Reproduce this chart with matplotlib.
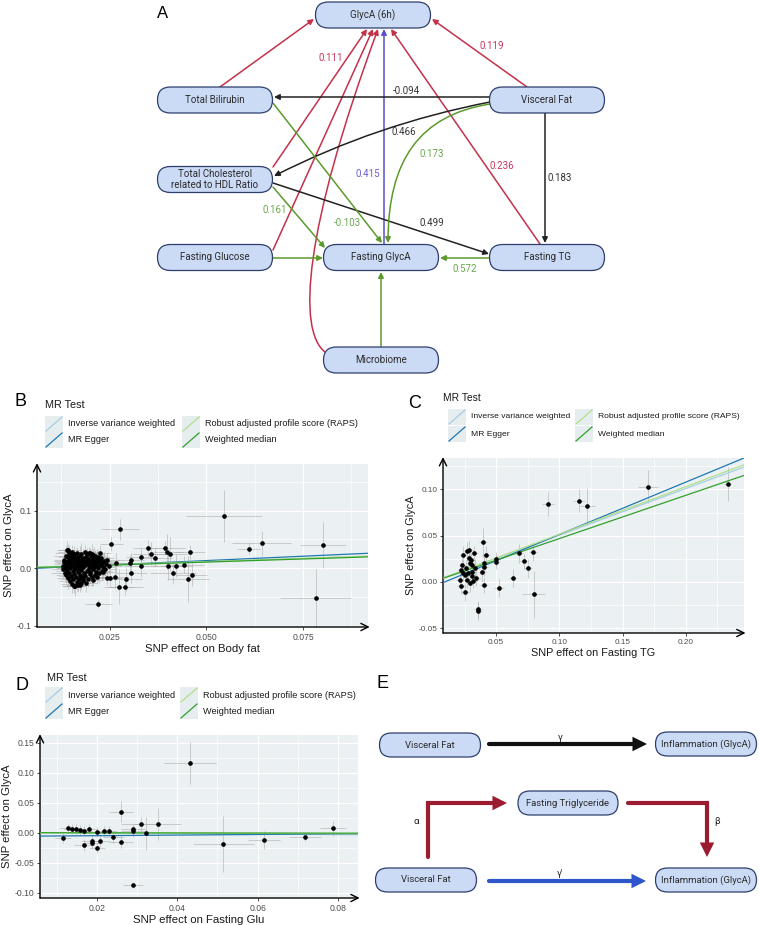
import matplotlib
matplotlib.use('Agg')
import matplotlib.pyplot as plt
from matplotlib.patches import FancyBboxPatch, FancyArrowPatch, Rectangle
from matplotlib.path import Path

plt.rcParams['font.family'] = ['Liberation Sans', 'DejaVu Sans']
plt.rcParams['axes.unicode_minus'] = False

# ---------------- data ----------------
# Panel A path coefficients
coef_bili_6h = "0.111"; coef_vf_6h = "0.119"; coef_vf_bili = "-0.094"
coef_vf_tc = "0.466"; coef_fg_6h = "0.415"; coef_vf_fg = "0.173"
coef_tg_6h = "0.236"; coef_vf_tg = "0.183"; coef_tc_fg = "0.161"
coef_bili_fg = "-0.103"; coef_tc_tg = "0.499"; coef_tg_fg = "0.572"

# Panel B: SNP effects (body fat -> GlycA)
b_x_outer = [0.0546, 0.0277, 0.0254, 0.0609, 0.0643, 0.0802, 0.0783, 0.0221, 0.0350, 0.0358,
             0.0367, 0.0394, 0.0399, 0.0406, 0.0400, 0.0422, 0.0414, 0.0443, 0.0457, 0.0452,
             0.0462, 0.0331, 0.0331, 0.0304, 0.0302, 0.0306, 0.0293, 0.0290, 0.0274, 0.0266,
             0.0263, 0.0252, 0.0243, 0.0233, 0.0229, 0.0224, 0.0220, 0.0207, 0.0198, 0.0181,
             0.0177, 0.0167, 0.0157, 0.0143]
b_y_outer = [0.0907, 0.0676, 0.0416, 0.0341, 0.0433, 0.0404, -0.0520, -0.0618, 0.0347, 0.0248,
             0.0185, 0.0352, 0.0289, 0.0248, 0.0046, 0.0046, -0.0075, 0.0064, 0.0289, -0.0185,
             -0.0116, 0.0202, 0.0046, 0.0144, 0.0087, -0.0075, -0.0190, -0.0318, -0.0318, 0.0087,
             -0.0144, -0.0173, -0.0173, -0.0058, 0.0116, 0.0260, 0.0173, 0.0231, 0.0260, -0.0202,
             -0.0260, -0.0289, -0.0306, 0.0318]
b_xe_outer = [0.0099, 0.0050, 0.0030, 0.0030, 0.0077, 0.0060, 0.0092, 0.0035, 0.0040, 0.0050,
              0.0045, 0.0050, 0.0040, 0.0045, 0.0040, 0.0040, 0.0060, 0.0050, 0.0040, 0.0055,
              0.0040, 0.0040, 0.0045, 0.0035, 0.0035, 0.0040, 0.0040, 0.0045, 0.0040, 0.0035,
              0.0035, 0.0030, 0.0030, 0.0030, 0.0030, 0.0030, 0.0030, 0.0030, 0.0030, 0.0030,
              0.0030, 0.0030, 0.0030, 0.0030]
b_ye_outer = [0.045, 0.018, 0.012, 0.010, 0.022, 0.040, 0.050, 0.008, 0.015, 0.020,
              0.015, 0.012, 0.030, 0.030, 0.025, 0.020, 0.020, 0.015, 0.012, 0.040,
              0.020, 0.015, 0.020, 0.012, 0.015, 0.018, 0.020, 0.015, 0.030, 0.018,
              0.020, 0.015, 0.012, 0.012, 0.012, 0.012, 0.010, 0.010, 0.010, 0.012,
              0.012, 0.012, 0.012, 0.010]
b_x_core = [0.0128, 0.0130, 0.0131, 0.0133, 0.0134, 0.0135, 0.0136, 0.0137, 0.0138, 0.0139,
            0.0140, 0.0141, 0.0142, 0.0143, 0.0143, 0.0144, 0.0145, 0.0146, 0.0147, 0.0148,
            0.0148, 0.0149, 0.0150, 0.0151, 0.0152, 0.0152, 0.0153, 0.0154, 0.0155, 0.0156,
            0.0157, 0.0157, 0.0158, 0.0159, 0.0160, 0.0160, 0.0161, 0.0162, 0.0163, 0.0164,
            0.0165, 0.0165, 0.0166, 0.0167, 0.0168, 0.0169, 0.0170, 0.0171, 0.0172, 0.0172,
            0.0173, 0.0174, 0.0175, 0.0176, 0.0177, 0.0178, 0.0179, 0.0180, 0.0181, 0.0182,
            0.0183, 0.0184, 0.0185, 0.0186, 0.0187, 0.0188, 0.0189, 0.0190, 0.0191, 0.0192,
            0.0193, 0.0194, 0.0195, 0.0196, 0.0197, 0.0198, 0.0199, 0.0200, 0.0201, 0.0202,
            0.0203, 0.0204, 0.0205, 0.0206, 0.0207, 0.0208, 0.0209, 0.0210, 0.0211, 0.0212,
            0.0213, 0.0214, 0.0215, 0.0216, 0.0217, 0.0218, 0.0219, 0.0220, 0.0222, 0.0223,
            0.0225, 0.0227, 0.0229, 0.0231, 0.0233, 0.0236, 0.0238, 0.0241, 0.0244, 0.0247]
b_y_core = [0.004, -0.002, 0.010, 0.015, -0.008, 0.001, 0.022, -0.012, 0.007, 0.031,
            -0.004, 0.013, 0.019, -0.017, 0.003, 0.026, -0.009, 0.009, 0.015, -0.022,
            0.001, 0.021, -0.013, 0.006, 0.028, -0.027, 0.011, -0.005, 0.017, -0.018,
            0.003, 0.024, -0.010, 0.008, -0.030, 0.014, -0.002, 0.020, -0.015, 0.005,
            0.012, -0.024, 0.027, -0.007, 0.016, 0.001, -0.019, 0.009, 0.022, -0.011,
            0.004, -0.029, 0.014, -0.003, 0.025, -0.016, 0.007, 0.018, -0.021, 0.002,
            0.011, -0.008, 0.029, -0.013, 0.005, 0.020, -0.025, 0.013, -0.004, 0.024,
            0.008, -0.018, 0.016, 0.001, 0.027, -0.010, 0.010, -0.006, 0.021, 0.004,
            -0.015, 0.014, 0.025, -0.002, 0.009, -0.020, 0.018, 0.003, -0.011, 0.012,
            0.022, -0.006, 0.006, 0.016, -0.016, 0.010, 0.001, 0.020, -0.009, 0.013,
            0.005, 0.017, -0.004, 0.009, 0.002, 0.012, -0.002, 0.007, 0.014, 0.004]
b_xe_core = [0.0025, 0.0030, 0.0022, 0.0028, 0.0035, 0.0024, 0.0030, 0.0026, 0.0032, 0.0022,
             0.0028, 0.0034, 0.0025, 0.0030, 0.0023, 0.0036, 0.0027, 0.0031, 0.0024, 0.0029,
             0.0033, 0.0026, 0.0030, 0.0022, 0.0035, 0.0028, 0.0025, 0.0031, 0.0027, 0.0034,
             0.0023, 0.0029, 0.0032, 0.0026, 0.0030, 0.0024, 0.0036, 0.0028, 0.0025, 0.0033,
             0.0027, 0.0031, 0.0022, 0.0029, 0.0035, 0.0026, 0.0030, 0.0024, 0.0032, 0.0028,
             0.0025, 0.0034, 0.0027, 0.0030, 0.0023, 0.0031, 0.0029, 0.0026, 0.0033, 0.0024,
             0.0030, 0.0028, 0.0035, 0.0025, 0.0032, 0.0027, 0.0029, 0.0023, 0.0031, 0.0026,
             0.0034, 0.0028, 0.0025, 0.0030, 0.0024, 0.0033, 0.0027, 0.0031, 0.0029, 0.0026,
             0.0032, 0.0025, 0.0030, 0.0028, 0.0035, 0.0024, 0.0031, 0.0027, 0.0033, 0.0029,
             0.0026, 0.0030, 0.0025, 0.0032, 0.0028, 0.0034, 0.0027, 0.0031, 0.0024, 0.0030,
             0.0029, 0.0033, 0.0026, 0.0031, 0.0028, 0.0035, 0.0030, 0.0034, 0.0032, 0.0036]
b_ye_core = [0.012, 0.015, 0.010, 0.018, 0.013, 0.011, 0.016, 0.014, 0.012, 0.017,
             0.010, 0.015, 0.013, 0.019, 0.011, 0.014, 0.016, 0.012, 0.018, 0.013,
             0.015, 0.011, 0.017, 0.014, 0.012, 0.016, 0.010, 0.015, 0.013, 0.018,
             0.011, 0.014, 0.016, 0.012, 0.019, 0.013, 0.015, 0.011, 0.017, 0.014,
             0.012, 0.016, 0.010, 0.015, 0.013, 0.018, 0.011, 0.014, 0.016, 0.012,
             0.017, 0.013, 0.015, 0.011, 0.019, 0.014, 0.012, 0.016, 0.010, 0.015,
             0.013, 0.018, 0.011, 0.014, 0.016, 0.012, 0.017, 0.013, 0.015, 0.011,
             0.019, 0.014, 0.012, 0.016, 0.010, 0.015, 0.013, 0.018, 0.011, 0.014,
             0.016, 0.012, 0.017, 0.013, 0.015, 0.011, 0.019, 0.014, 0.012, 0.016,
             0.010, 0.015, 0.013, 0.018, 0.011, 0.014, 0.016, 0.012, 0.017, 0.013,
             0.015, 0.011, 0.019, 0.014, 0.012, 0.016, 0.013, 0.015, 0.012, 0.014]

# Panel C: SNP effects (fasting TG -> GlycA)
c_x = [0.233, 0.170, 0.091, 0.1156, 0.122, 0.0796, 0.079,
       0.0397, 0.042, 0.0407, 0.0407, 0.0392, 0.0402, 0.0356, 0.036, 0.0521, 0.0497,
       0.0497, 0.063, 0.068, 0.0717, 0.0754,
       0.0212, 0.022, 0.0252, 0.0225, 0.0233, 0.0241, 0.0273, 0.0286, 0.0326, 0.0288,
       0.0301, 0.0294, 0.031, 0.0257, 0.0278, 0.0307, 0.0339, 0.0294, 0.032, 0.0267,
       0.0333, 0.0262, 0.0236, 0.0307]
c_y = [0.106, 0.103, 0.084, 0.088, 0.082, -0.0137, 0.032,
       0.0427, 0.029, 0.0206, 0.0163, 0.0102, -0.0036, -0.0296, -0.0314, -0.0065, 0.0246,
       0.0214, 0.004, 0.0308, 0.0224, 0.0145,
       0.0015, -0.0047, -0.0108, 0.0127, 0.0181, 0.0286, 0.033, 0.0344, 0.0308, 0.0254,
       0.0236, 0.0206, 0.0181, 0.0073, 0.009, 0.0062, 0.0037, -0.001, 0.0011, 0.0018,
       0.0152, 0.0152, 0.009, 0.0108]
c_xe = [0.003, 0.008, 0.005, 0.005, 0.006, 0.009, 0.003,
        0.003, 0.003, 0.003, 0.003, 0.003, 0.003, 0.003, 0.003, 0.004, 0.003,
        0.003, 0.003, 0.003, 0.003, 0.003,
        0.003, 0.003, 0.003, 0.003, 0.003, 0.003, 0.003, 0.003, 0.003, 0.003,
        0.003, 0.003, 0.003, 0.003, 0.003, 0.003, 0.003, 0.003, 0.003, 0.003,
        0.003, 0.003, 0.003, 0.003]
c_ye = [0.018, 0.018, 0.013, 0.012, 0.020, 0.025, 0.010,
        0.016, 0.010, 0.010, 0.010, 0.010, 0.008, 0.008, 0.010, 0.010, 0.008,
        0.008, 0.010, 0.010, 0.008, 0.010,
        0.008, 0.008, 0.010, 0.008, 0.008, 0.010, 0.010, 0.010, 0.008, 0.010,
        0.008, 0.010, 0.008, 0.008, 0.010, 0.008, 0.008, 0.010, 0.008, 0.008,
        0.010, 0.008, 0.008, 0.010]

# Panel D: SNP effects (fasting glucose -> GlycA)
d_x = [0.0432, 0.0260, 0.0310, 0.0351, 0.0290, 0.0290, 0.0322, 0.0116, 0.0127, 0.0138,
       0.0148, 0.0158, 0.0168, 0.0179, 0.0168, 0.0188, 0.0188, 0.0199, 0.0199, 0.0208,
       0.0218, 0.0229, 0.0239, 0.0260, 0.0290, 0.0515, 0.0616, 0.0717, 0.0788]
d_y = [0.1167, 0.0350, 0.0145, 0.0145, 0.0055, 0.0022, -0.0010, -0.0093, 0.0073, 0.0057,
       0.0060, 0.0045, 0.0034, 0.0060, -0.0210, -0.0133, -0.0180, -0.0255, 0.0010, -0.0139,
       0.0029, 0.0024, -0.0067, -0.0150, -0.0872, -0.0194, -0.0122, -0.0067, 0.0072]
d_xe = [0.0064, 0.0030, 0.0050, 0.0058, 0.0030, 0.0030, 0.0040, 0.0020, 0.0020, 0.0020,
        0.0020, 0.0020, 0.0020, 0.0020, 0.0025, 0.0025, 0.0025, 0.0020, 0.0020, 0.0025,
        0.0020, 0.0020, 0.0025, 0.0030, 0.0025, 0.0075, 0.0040, 0.0040, 0.0033]
d_ye = [0.035, 0.018, 0.012, 0.026, 0.008, 0.010, 0.028, 0.008, 0.008, 0.008,
        0.008, 0.008, 0.008, 0.008, 0.010, 0.010, 0.008, 0.008, 0.008, 0.010,
        0.008, 0.008, 0.010, 0.010, 0.005, 0.047, 0.015, 0.008, 0.012]

# MR estimates (intercept, slope) per method
mr_methods = ["Inverse variance weighted", "MR Egger",
              "Robust adjusted profile score (RAPS)", "Weighted median"]
mr_colors = ["#a6cee3", "#1f78b4", "#b2df8a", "#33a02c"]
b_fit = [(0.0, 0.225), (-0.0019, 0.304), (0.0, 0.230), (0.0, 0.215)]
c_fit = [(0.0, 0.505), (-0.0055, 0.567), (0.0, 0.515), (0.0, 0.468)]
d_fit = [(0.0, -0.04), (-0.006, 0.05), (0.0, -0.02), (0.0, -0.01)]

# ---------------- figure ----------------
W, H = 759, 925
fig = plt.figure(figsize=(W / 100, H / 100), dpi=100)
bg = fig.add_axes([0, 0, 1, 1])
bg.set_xlim(0, W); bg.set_ylim(H, 0); bg.axis('off')

BOX_FC = '#cbdaf5'; BOX_EC = '#2e3f6e'
RED = '#c4314b'; GREEN = '#5b9a2b'; BLACK = '#222222'; PURPLE = '#5a4fcf'
RED_T = '#c8365a'; GREEN_T = '#6aa84f'; PURPLE_T = '#6b5fd0'; BLACK_T = '#333333'
DFONT = 'Roboto'


def node(cx, cy, text, w=115, h=26, fs=7.0):
    bg.add_patch(FancyBboxPatch((cx - w / 2, cy - h / 2), w, h,
                                boxstyle=f"round,pad=0,rounding_size={h / 2}",
                                fc=BOX_FC, ec=BOX_EC, lw=0.9, zorder=3))
    bg.text(cx, cy, text, ha='center', va='center', fontsize=fs, family=DFONT,
            color='#2b2b2b', zorder=4, linespacing=1.05)


def arrow(p0, p1, color, rad=0.0, lw=1.1, ms=8):
    bg.add_patch(FancyArrowPatch(p0, p1, arrowstyle='-|>', mutation_scale=ms, color=color,
                                 lw=lw, connectionstyle=f'arc3,rad={rad}',
                                 shrinkA=0, shrinkB=0, zorder=2))


def curve(verts, color, lw=1.1, ms=8):
    codes = [Path.MOVETO] + [Path.CURVE4] * (len(verts) - 1)
    bg.add_patch(FancyArrowPatch(path=Path(verts, codes), arrowstyle='-|>', mutation_scale=ms,
                                 color=color, lw=lw, transform=bg.transData, zorder=2))


def polyarrow(verts, color, lw=3.0, ms=14):
    codes = [Path.MOVETO] + [Path.LINETO] * (len(verts) - 1)
    bg.add_patch(FancyArrowPatch(path=Path(verts, codes), arrowstyle='-|>', mutation_scale=ms,
                                 color=color, lw=lw, transform=bg.transData, zorder=2,
                                 joinstyle='miter'))


def lab(x, y, s, color, fs=7.0):
    bg.text(x, y, s, ha='center', va='center', fontsize=fs, family=DFONT, color=color, zorder=5)


# ---- Panel A ----
bg.text(163, 14, 'A', fontsize=12, ha='center', va='center')
node(373, 15, 'GlycA (6h)')
node(215, 100, 'Total Bilirubin')
node(547, 100, 'Visceral Fat')
node(215, 179.5, 'Total Cholesterol\nrelated to HDL Ratio')
node(215, 257.5, 'Fasting Glucose')
node(381, 257.5, 'Fasting GlycA')
node(547, 257.5, 'Fasting TG')
node(381, 360, 'Microbiome')

arrow((220, 87), (314, 19), RED)
arrow((527, 87), (432, 19), RED)
arrow((273, 167), (367, 29), RED)
arrow((273, 250), (373, 29), RED)
curve([(325, 352), (297, 330), (304, 230), (378, 29)], RED)
arrow((540, 244), (391, 29), RED)
arrow((384, 244), (384, 29), PURPLE)
arrow((490, 97), (274, 97), BLACK)
arrow((490, 102), (274, 176), BLACK, rad=0.07)
arrow((273, 183), (489, 254), BLACK)
arrow((545, 113), (545, 243), BLACK)
arrow((273, 103), (382, 243), GREEN)
arrow((273, 187), (325, 248), GREEN)
curve([(490, 104), (420, 115), (388, 160), (388, 243)], GREEN)
arrow((273, 258), (323, 258), GREEN)
arrow((490, 258), (440, 258), GREEN)
arrow((381, 347), (381, 272), GREEN)

lab(331, 58, coef_bili_6h, RED_T)
lab(492, 46, coef_vf_6h, RED_T)
lab(406, 91, coef_vf_bili, BLACK_T)
lab(404, 132, coef_vf_tc, BLACK_T)
lab(368, 174, coef_fg_6h, PURPLE_T)
lab(432, 154, coef_vf_fg, GREEN_T)
lab(502, 166, coef_tg_6h, RED_T)
lab(560, 178, coef_vf_tg, BLACK_T)
lab(275, 210, coef_tc_fg, GREEN_T)
lab(347, 223, coef_bili_fg, GREEN_T)
lab(432, 223, coef_tc_tg, BLACK_T)
lab(465, 269, coef_tg_fg, GREEN_T)

# ---- Panel E ----
E_RED = '#9b1c31'; E_BLUE = '#2e55c9'
bg.text(382, 684, 'E', fontsize=13, ha='center', va='center')
node(430, 745, 'Visceral Fat', w=101, h=24, fs=6.8)
node(706, 744, 'Inflammation (GlycA)', w=101, h=24, fs=6.8)
node(568, 803, 'Fasting Triglyceride', w=100, h=24, fs=6.8)
node(426, 880, 'Visceral Fat', w=101, h=24, fs=6.8)
node(706, 880, 'Inflammation (GlycA)', w=101, h=24, fs=6.8)
polyarrow([(489, 744), (647, 744)], '#111111')
polyarrow([(428, 857), (428, 803), (507, 803)], E_RED)
polyarrow([(628, 803), (707, 803), (707, 857)], E_RED)
polyarrow([(489, 881), (646, 881)], E_BLUE)
lab(560, 737, 'γ', '#222222', fs=6.8)
lab(416, 822, 'α', '#222222', fs=6.8)
lab(717, 822, 'β', '#222222', fs=6.8)
lab(560, 873, "γ'", '#222222', fs=6.8)


# ---- scatter panels ----
def rect(x0, y0, x1, y1):
    return [x0 / W, 1 - y1 / H, (x1 - x0) / W, (y1 - y0) / H]


def mr_panel(box, xs, ys, xe, ye, fits, xlim, ylim, xt, xtl, yt, ytl, xmin, ymin, xlabel,
             lfs=8.2, tfs=6.2):
    ax = fig.add_axes(rect(*box))
    ax.set_facecolor('#ebf0f2')
    ax.set_xlim(*xlim); ax.set_ylim(*ylim)
    ax.set_xticks(xt); ax.set_xticklabels(xtl)
    ax.set_yticks(yt); ax.set_yticklabels(ytl)
    ax.set_xticks(xmin, minor=True); ax.set_yticks(ymin, minor=True)
    ax.grid(which='major', color='white', lw=0.9)
    ax.grid(which='minor', color='white', lw=0.45)
    ax.set_axisbelow(True)
    for s in ax.spines.values():
        s.set_visible(False)
    ax.tick_params(which='major', length=2.5, width=0.6, color='#333333', labelsize=tfs,
                   labelcolor='#4d4d4d', pad=1.5)
    ax.tick_params(which='minor', length=0)
    ax.annotate('', xy=(0, 1.005), xytext=(0, 0), xycoords='axes fraction',
                arrowprops=dict(arrowstyle='->', lw=1.0, color='black', mutation_scale=13,
                                shrinkA=0, shrinkB=0), annotation_clip=False)
    ax.annotate('', xy=(1.005, 0), xytext=(0, 0), xycoords='axes fraction',
                arrowprops=dict(arrowstyle='->', lw=1.0, color='black', mutation_scale=13,
                                shrinkA=0, shrinkB=0), annotation_clip=False)
    ax.set_xlabel(xlabel, fontsize=lfs, color='#1a1a1a', labelpad=2)
    ax.set_ylabel('SNP effect on GlycA', fontsize=lfs, color='#1a1a1a', labelpad=2)
    ax.errorbar(xs, ys, xerr=xe, yerr=ye, fmt='none', ecolor='#a4a4a4', elinewidth=0.6,
                alpha=0.6, zorder=2)
    ax.scatter(xs, ys, s=11, c='black', zorder=4, linewidths=0)
    for (a, b), col in zip(fits, mr_colors):
        ax.axline((0, a), slope=b, color=col, lw=0.9, zorder=3)
    return ax


mr_panel((37, 464, 368, 627), b_x_outer + b_x_core, b_y_outer + b_y_core,
         b_xe_outer + b_xe_core, b_ye_outer + b_ye_core, b_fit,
         (0.0062, 0.0918), (-0.102, 0.181),
         [0.025, 0.050, 0.075], ['0.025', '0.050', '0.075'],
         [-0.1, 0.0, 0.1], ['-0.1', '0.0', '0.1'],
         [0.0125, 0.0375, 0.0625, 0.0875], [-0.05, 0.05, 0.15], 'SNP effect on Body fat')

mr_panel((443, 458, 744, 633), c_x, c_y, c_xe, c_ye, c_fit,
         (0.008, 0.246), (-0.0554, 0.134),
         [0.05, 0.10, 0.15, 0.20], ['0.05', '0.10', '0.15', '0.20'],
         [-0.05, 0.0, 0.05, 0.10], ['-0.05', '0.00', '0.05', '0.10'],
         [0.025, 0.075, 0.125, 0.175, 0.225], [-0.025, 0.025, 0.075, 0.125],
         'SNP effect on Fasting TG', lfs=7.8, tfs=5.9)

mr_panel((40, 735, 358, 898), d_x, d_y, d_xe, d_ye, d_fit,
         (0.0058, 0.085), (-0.109, 0.163),
         [0.02, 0.04, 0.06, 0.08], ['0.02', '0.04', '0.06', '0.08'],
         [-0.10, -0.05, 0.0, 0.05, 0.10, 0.15], ['-0.10', '-0.05', '0.00', '0.05', '0.10', '0.15'],
         [0.01, 0.03, 0.05, 0.07], [-0.075, -0.025, 0.025, 0.075, 0.125],
         'SNP effect on Fasting Glu')


# ---- legends ----
def mr_legend(letter, letter_xy, title_xy, col_x, row_y, fs=6.6, tfs=7.8):
    bg.text(letter_xy[0], letter_xy[1], letter, fontsize=13, ha='center', va='center')
    bg.text(title_xy[0], title_xy[1], 'MR Test', fontsize=tfs, ha='left', va='center',
            color='#1a1a1a')
    k = 0
    for cx in col_x:
        for ry in row_y:
            bg.add_patch(Rectangle((cx, ry - 8), 18, 16, fc='#e6edef', ec='none'))
            bg.plot([cx + 1, cx + 17], [ry + 7, ry - 7], color=mr_colors[k], lw=0.9)
            bg.text(cx + 23, ry, mr_methods[k], fontsize=fs, ha='left', va='center',
                    color='#1a1a1a')
            k += 1


mr_legend('B', (21, 401), (45, 405), (45, 182), (424, 440))
mr_legend('C', (415, 403), (443, 398), (448, 575), (417, 434), fs=6.1, tfs=7.4)
mr_legend('D', (22, 685), (47, 678), (45, 180), (695, 711))

fig.savefig('out.png', dpi=100)
